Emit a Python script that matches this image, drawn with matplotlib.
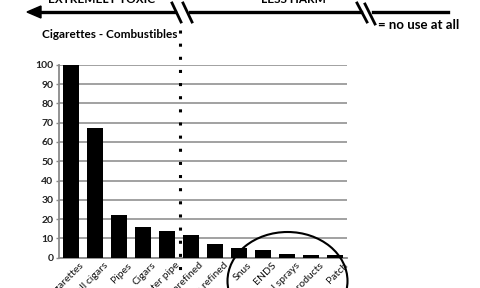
import matplotlib
matplotlib.use("Agg")
import matplotlib.pyplot as plt
from matplotlib.lines import Line2D
from matplotlib.patches import Polygon, Ellipse
from matplotlib.transforms import ScaledTranslation

plt.rcParams['font.family'] = ['Lato', 'DejaVu Sans']

categories = ["Cigarettes", "Small cigars", "Pipes", "Cigars", "Water pipe",
              "Smokeless unrefined", "Smokeless refined", "Snus", "ENDS",
              "Oral sprays", "Oral products", "Patch"]
values = [100, 67, 22, 16, 14, 12, 7, 5, 4, 2, 1.5, 1.5]
yticks = [0, 10, 20, 30, 40, 50, 60, 70, 80, 90, 100]

W, H = 480, 288
fig = plt.figure(figsize=(4.8, 2.88), dpi=100)

def P(x, y):
    return (x / W, 1 - y / H)

ax = fig.add_axes([59 / W, 1 - 257.7 / H, 288 / W, 193 / H])
x = list(range(len(categories)))
ax.bar(x, values, width=0.63, color='black', zorder=3)
ax.set_xlim(-0.5, len(categories) - 0.5)
ax.set_ylim(0, 100)
ax.set_yticks(yticks)
ax.yaxis.grid(True, color='#9a9a9a', linewidth=1.3, zorder=0)
ax.set_axisbelow(True)
for s in ['top', 'right']:
    ax.spines[s].set_visible(False)
ax.spines['left'].set_color('#8a8a8a')
ax.spines['left'].set_linewidth(1.3)
ax.spines['bottom'].set_color('#8a8a8a')
ax.spines['bottom'].set_linewidth(1.3)
ax.tick_params(axis='y', length=2.5, width=1, color='#8a8a8a', pad=1.5,
               labelsize=7.5, labelcolor='#222222')
for lab in ax.get_yticklabels():
    lab.set_fontweight('bold')
ax.set_xticks(x)
ax.set_xticklabels(categories, rotation=45, ha='right', rotation_mode='anchor',
                   fontsize=7.5, color='#111111')
ax.tick_params(axis='x', length=0, pad=3)
off = ScaledTranslation(8 / 100, 1 / 100, fig.dpi_scale_trans)
for lab in ax.get_xticklabels():
    lab.set_transform(lab.get_transform() + off)

# Dotted separator line
fig.add_artist(Line2D([180 / W, 180 / W], [1 - 30 / H, 1 - 274 / H],
                      transform=fig.transFigure, color='black',
                      linewidth=2.2, linestyle=(0, (1, 3.3)), zorder=5))

# Top arrow line with breaks
lw = 2.4
segs = [(36, 175), (190, 361), (373, 448)]
for a, b in segs:
    fig.add_artist(Line2D([a / W, b / W], [1 - 12 / H, 1 - 12 / H],
                          transform=fig.transFigure, color='black', linewidth=lw))
head = Polygon([P(27, 12), P(41, 6), P(41, 18)], closed=True,
               transform=fig.transFigure, facecolor='black', edgecolor='black')
fig.add_artist(head)
for (x0, y0, x1, y1) in [(172, 3, 181, 22), (183, 3, 192, 22),
                         (357, 3, 367, 22), (365, 4, 375, 24)]:
    fig.add_artist(Line2D([x0 / W, x1 / W], [1 - y0 / H, 1 - y1 / H],
                          transform=fig.transFigure, color='black', linewidth=2.0))

# Partially clipped top titles
fig.text(102 / W, 1 - 3 / H, "EXTREMELY TOXIC", ha='center', va='baseline',
         fontsize=8.5, fontweight='bold')
fig.text(293 / W, 1 - 3 / H, "LESS HARM", ha='center', va='baseline',
         fontsize=8.5, fontweight='bold')

fig.text(42 / W, 1 - 34 / H, "Cigarettes - Combustibles", ha='left', va='center',
         fontsize=8.5, fontweight='bold')
fig.text(378 / W, 1 - 25 / H, "= no use at all", ha='left', va='center',
         fontsize=9.5, fontweight='bold')

# Ellipse around the low-harm products
ell = Ellipse(P(287.5, 281), 120 / W, 98 / H, transform=fig.transFigure,
              fill=False, edgecolor='black', linewidth=1.5, zorder=6)
fig.add_artist(ell)

fig.savefig("out.png", dpi=100)
